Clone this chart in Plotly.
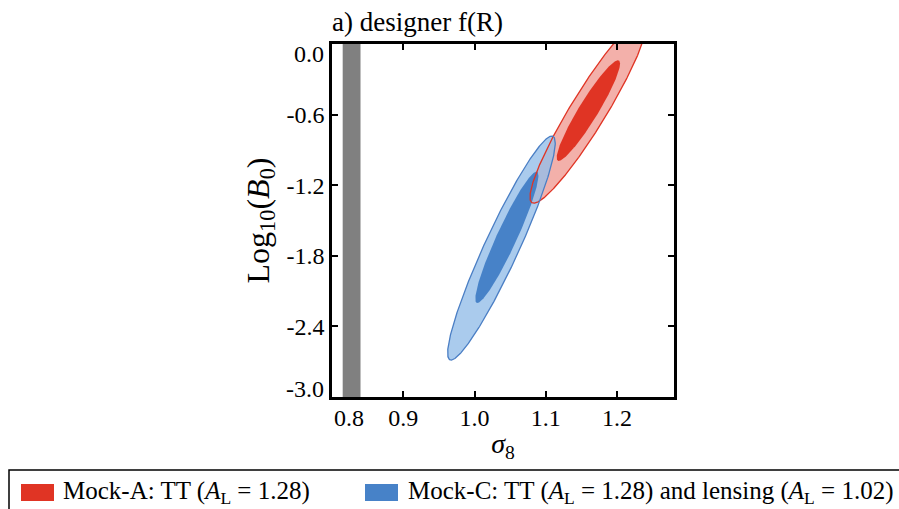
import numpy as np
import plotly.graph_objects as go

# ---------------- data ----------------
series_names = ["Mock-A: TT (<i>A</i><sub>L</sub> = 1.28)",
                "Mock-C: TT (<i>A</i><sub>L</sub> = 1.28) and lensing (<i>A</i><sub>L</sub> = 1.02)"]

# 2D Gaussian approximations of the marginalised posteriors (sigma8, log10 B0)
red_mean_68 = [1.1598, -0.566]
red_mean_95 = [1.1598, -0.566]
red_sigma = [0.0330, 0.3168]
red_rho = 0.935
red_levels = [1.35, 2.484]

blue_mean_68 = [1.0454, -1.643]
blue_mean_95 = [1.0378, -1.734]
blue_sigma = [0.0304, 0.3833]
blue_rho = 0.937
blue_levels = [1.458, 2.484]

band_x = [0.815, 0.840]

x_ticks = [0.9, 1.0, 1.1, 1.2]
x_ticklabels = ["0.9", "1.0", "1.1", "1.2"]
y_ticks = [-0.6, -1.2, -1.8, -2.4]
y_ticklabels = ["-0.6", "-1.2", "-1.8", "-2.4"]
x_range = [0.8, 1.28]
y_range = [-3.0, 0.0]

# ---------------- styles ----------------
RED_DARK = "#E03424"
RED_LIGHT = "#F3B0AA"
BLUE_DARK = "#4782C8"
BLUE_LIGHT = "rgba(149,190,233,0.8)"
FONT = "Liberation Serif"

W, H = 899, 509
ML, MR, MT, MB = 332, 225, 44, 112
PW, PH = W - ML - MR, H - MT - MB


def px(X):
    return (X - ML) / PW


def py(Y):
    return (H - MB - Y) / PH


theta = np.linspace(0, 2 * np.pi, 500)


def ellipse(mean, sigma, rho, k):
    sx, sy = sigma
    cov = np.array([[sx * sx, rho * sx * sy], [rho * sx * sy, sy * sy]])
    L = np.linalg.cholesky(cov)
    pts = L @ np.vstack([k * np.cos(theta), k * np.sin(theta)])
    return mean[0] + pts[0], mean[1] + pts[1]


fig = go.Figure()

rx95, ry95 = ellipse(red_mean_95, red_sigma, red_rho, red_levels[1])
rx68, ry68 = ellipse(red_mean_68, red_sigma, red_rho, red_levels[0])
bx95, by95 = ellipse(blue_mean_95, blue_sigma, blue_rho, blue_levels[1])
bx68, by68 = ellipse(blue_mean_68, blue_sigma, blue_rho, blue_levels[0])

# fills
fig.add_trace(go.Scatter(x=rx95, y=ry95, fill="toself", fillcolor=RED_LIGHT,
                         line=dict(width=0), mode="lines", showlegend=False, hoverinfo="skip"))
fig.add_trace(go.Scatter(x=rx68, y=ry68, fill="toself", fillcolor=RED_DARK,
                         line=dict(width=0), mode="lines", showlegend=False, hoverinfo="skip"))
fig.add_trace(go.Scatter(x=bx95, y=by95, fill="toself", fillcolor=BLUE_LIGHT,
                         line=dict(width=0), mode="lines", showlegend=False, hoverinfo="skip"))
fig.add_trace(go.Scatter(x=bx68, y=by68, fill="toself", fillcolor=BLUE_DARK,
                         line=dict(width=0), mode="lines", showlegend=False, hoverinfo="skip"))
# outlines
fig.add_trace(go.Scatter(x=rx95, y=ry95, mode="lines", line=dict(color=RED_DARK, width=1.3),
                         showlegend=False, hoverinfo="skip"))
fig.add_trace(go.Scatter(x=bx95, y=by95, mode="lines", line=dict(color="#4A7EC4", width=1.3),
                         showlegend=False, hoverinfo="skip"))

# grey band
fig.add_shape(type="rect", xref="x", yref="paper", x0=band_x[0], x1=band_x[1], y0=0, y1=1,
              fillcolor="#808080", line=dict(width=0), layer="below")

axis_common = dict(showline=True, linecolor="black", linewidth=2.5, mirror="ticks",
                   ticks="inside", ticklen=6, tickwidth=1.5, tickcolor="black",
                   showgrid=False, zeroline=False,
                   tickfont=dict(family=FONT, size=24, color="black"))

fig.update_xaxes(range=x_range, tickvals=x_ticks, ticktext=x_ticklabels, ticklabelstandoff=-3,
                 title=dict(text="<i>σ</i><sub>8</sub>", font=dict(family=FONT, size=28, color="black"),
                            standoff=4),
                 **axis_common)
fig.update_yaxes(range=y_range, tickvals=y_ticks, ticktext=y_ticklabels,
                 title=dict(text="Log<sub>10</sub>(<i>B</i><sub>0</sub>)",
                            font=dict(family=FONT, size=32, color="black"), standoff=8),
                 **axis_common)

annotations = []
# edge tick labels shifted inwards
annotations.append(dict(text="0.0", xref="paper", x=0, xanchor="right", xshift=-6,
                        yref="y", y=0.0, yanchor="middle", yshift=-10, showarrow=False,
                        font=dict(family=FONT, size=24, color="black")))
annotations.append(dict(text="-3.0", xref="paper", x=0, xanchor="right", xshift=-6,
                        yref="y", y=-3.0, yanchor="middle", yshift=8, showarrow=False,
                        font=dict(family=FONT, size=24, color="black")))
annotations.append(dict(text="0.8", xref="x", x=0.8, xanchor="left", xshift=0,
                        yref="paper", y=0, yanchor="top", yshift=-6, showarrow=False,
                        font=dict(family=FONT, size=24, color="black")))

# manual legend
shapes = [dict(type="rect", xref="paper", yref="paper", x0=px(9), x1=px(915), y0=py(525), y1=py(470),
               line=dict(color="black", width=1.5), fillcolor="rgba(0,0,0,0)")]
swatch_colors = [RED_DARK, BLUE_DARK]
swatch_left = [21, 365]
text_left = [61, 406]
for name, col, sl, tl in zip(series_names, swatch_colors, swatch_left, text_left):
    shapes.append(dict(type="rect", xref="paper", yref="paper", x0=px(sl), x1=px(sl + 33),
                       y0=py(501), y1=py(484), fillcolor=col, line=dict(width=0)))
    annotations.append(dict(text=name, xref="paper", yref="paper", x=px(tl), y=py(492),
                            xanchor="left", yanchor="middle", showarrow=False,
                            font=dict(family=FONT, size=25, color="black")))

for s in shapes:
    fig.add_shape(**s)

fig.update_layout(
    width=W, height=H,
    margin=dict(l=ML, r=MR, t=MT, b=MB),
    paper_bgcolor="white", plot_bgcolor="white",
    showlegend=False,
    title=dict(text="a) designer f(R)", x=px(332), xref="paper", xanchor="left",
               y=1 - 22 / H, yanchor="middle", font=dict(family=FONT, size=27, color="black")),
    annotations=annotations,
)

fig.write_html("out.html", config={"displayModeBar": False},
               post_script="document.body.style.margin='0px';document.body.style.overflow='hidden';")
